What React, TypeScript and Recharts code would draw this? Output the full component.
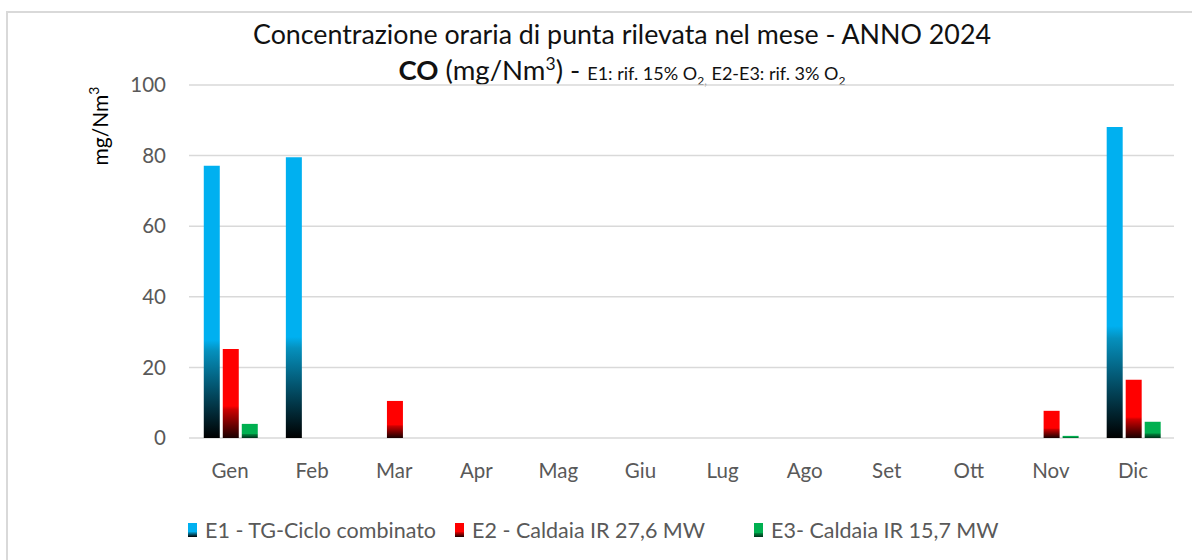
import React from 'react';
import { BarChart, Bar, XAxis, YAxis, CartesianGrid, Legend } from 'recharts';

const months = ['Gen', 'Feb', 'Mar', 'Apr', 'Mag', 'Giu', 'Lug', 'Ago', 'Set', 'Ott', 'Nov', 'Dic'];
const e1Values = [77.1, 79.5, null, null, null, null, null, null, null, null, null, 88.1];
const e2Values = [25.2, null, 10.5, null, null, null, null, null, null, null, 7.7, 16.5];
const e3Values = [4.0, null, null, null, null, null, null, null, null, null, 0.6, 4.6];
const yTicks = [0, 20, 40, 60, 80, 100];

const seriesNames = {
  e1: 'E1 - TG-Ciclo combinato',
  e2: 'E2 - Caldaia IR 27,6 MW',
  e3: 'E3- Caldaia IR 15,7 MW',
};

const chartData = months.map((m, i) => ({ month: m, e1: e1Values[i], e2: e2Values[i], e3: e3Values[i] }));

const FONT = 'Lato, "Open Sans", sans-serif';
const GRAY = '#595959';

const legendItems = [
  { key: 'e1', label: seriesNames.e1, fill: 'url(#gradE1)', w: 267 },
  { key: 'e2', label: seriesNames.e2, fill: 'url(#gradE2)', w: 299 },
  { key: 'e3', label: seriesNames.e3, fill: 'url(#gradE3)', w: 290 },
];

function LegendContent() {
  return (
    <div style={{ display: 'flex', alignItems: 'center', fontFamily: FONT, fontSize: 21.5, color: GRAY, whiteSpace: 'nowrap' }}>
      {legendItems.map((item) => (
        <div key={item.key} style={{ display: 'flex', alignItems: 'center', width: item.w }}>
          <svg width={9} height={14} style={{ marginRight: 8 }}>
            <rect x={0} y={0} width={9} height={14} fill={item.fill} />
          </svg>
          <span>{item.label}</span>
        </div>
      ))}
    </div>
  );
}

function YLabel() {
  return (
    <text
      x={99}
      y={126}
      transform="rotate(-90 99 126)"
      textAnchor="middle"
      dominantBaseline="central"
      fontFamily={FONT}
      fontSize={21}
      fill="#000"
    >
      mg/Nm<tspan dy={-6} fontSize={14}>3</tspan>
    </text>
  );
}

export default function App() {
  return (
    <div style={{ position: 'absolute', left: 0, top: 0, width: 1192, height: 560, overflow: 'hidden', background: '#fff' }}>
      <div style={{ position: 'absolute', left: 6, top: 11, width: 1300, height: 700, border: '2px solid #d9d9d9' }} />

      {/* titolo su due righe */}
      <div style={{ position: 'absolute', left: 122, top: 16, width: 1000, textAlign: 'center', fontFamily: FONT, color: '#111' }}>
        <div style={{ fontSize: 26.8, lineHeight: '36px' }}>Concentrazione oraria di punta rilevata nel mese - ANNO 2024</div>
        <div style={{ fontSize: 27.5, lineHeight: '36px' }}>
          <b>CO</b> (mg/Nm<sup style={{ fontSize: 17.5, lineHeight: 0 }}>3</sup>) -{' '}
          <span style={{ fontSize: 18 }}>
            E1: rif. 15% O<sub style={{ fontSize: 12, lineHeight: 0 }}>2,</sub> E2-E3: rif. 3% O<sub style={{ fontSize: 12, lineHeight: 0 }}>2</sub>
          </span>
        </div>
      </div>

      <div style={{ position: 'absolute', left: 0, top: 0 }}>
        <BarChart
          width={1192}
          height={560}
          data={chartData}
          margin={{ top: 85, right: 18, left: 0, bottom: 42 }}
          barCategoryGap="18%"
          barGap={3}
        >
          <defs>
            <linearGradient id="gradE1" x1="0" y1="0" x2="0" y2="1">
              <stop offset="0" stopColor="#00B0F0" />
              <stop offset="0.64" stopColor="#00B0F0" />
              <stop offset="0.68" stopColor="#0590bd" />
              <stop offset="1" stopColor="#000000" />
            </linearGradient>
            <linearGradient id="gradE2" x1="0" y1="0" x2="0" y2="1">
              <stop offset="0" stopColor="#FF0000" />
              <stop offset="0.64" stopColor="#FF0000" />
              <stop offset="0.68" stopColor="#cc0000" />
              <stop offset="1" stopColor="#1a0000" />
            </linearGradient>
            <linearGradient id="gradE3" x1="0" y1="0" x2="0" y2="1">
              <stop offset="0" stopColor="#00B050" />
              <stop offset="0.7" stopColor="#00B050" />
              <stop offset="0.75" stopColor="#00803a" />
              <stop offset="1" stopColor="#00301a" />
            </linearGradient>
          </defs>
          <CartesianGrid vertical={false} stroke="#d9d9d9" strokeWidth={1.5} />
          <XAxis
            dataKey="month"
            axisLine={false}
            tickLine={false}
            height={40}
            tickMargin={19}
            tick={{ fill: GRAY, fontSize: 20.5, fontFamily: FONT }}
            interval={0}
          />
          <YAxis
            width={189}
            domain={[0, 100]}
            ticks={yTicks}
            axisLine={false}
            tickLine={false}
            tickMargin={17}
            tick={{ fill: GRAY, fontSize: 20.5, fontFamily: FONT }}
            label={<YLabel />}
          />
          <Legend
            height={40}
            content={<LegendContent />}
            wrapperStyle={{ left: 188, top: 517, bottom: 'auto', width: 'auto' }}
          />
          <Bar dataKey="e1" name={seriesNames.e1} fill="url(#gradE1)" isAnimationActive={false} />
          <Bar dataKey="e2" name={seriesNames.e2} fill="url(#gradE2)" isAnimationActive={false} />
          <Bar dataKey="e3" name={seriesNames.e3} fill="url(#gradE3)" isAnimationActive={false} />
        </BarChart>
      </div>
    </div>
  );
}
